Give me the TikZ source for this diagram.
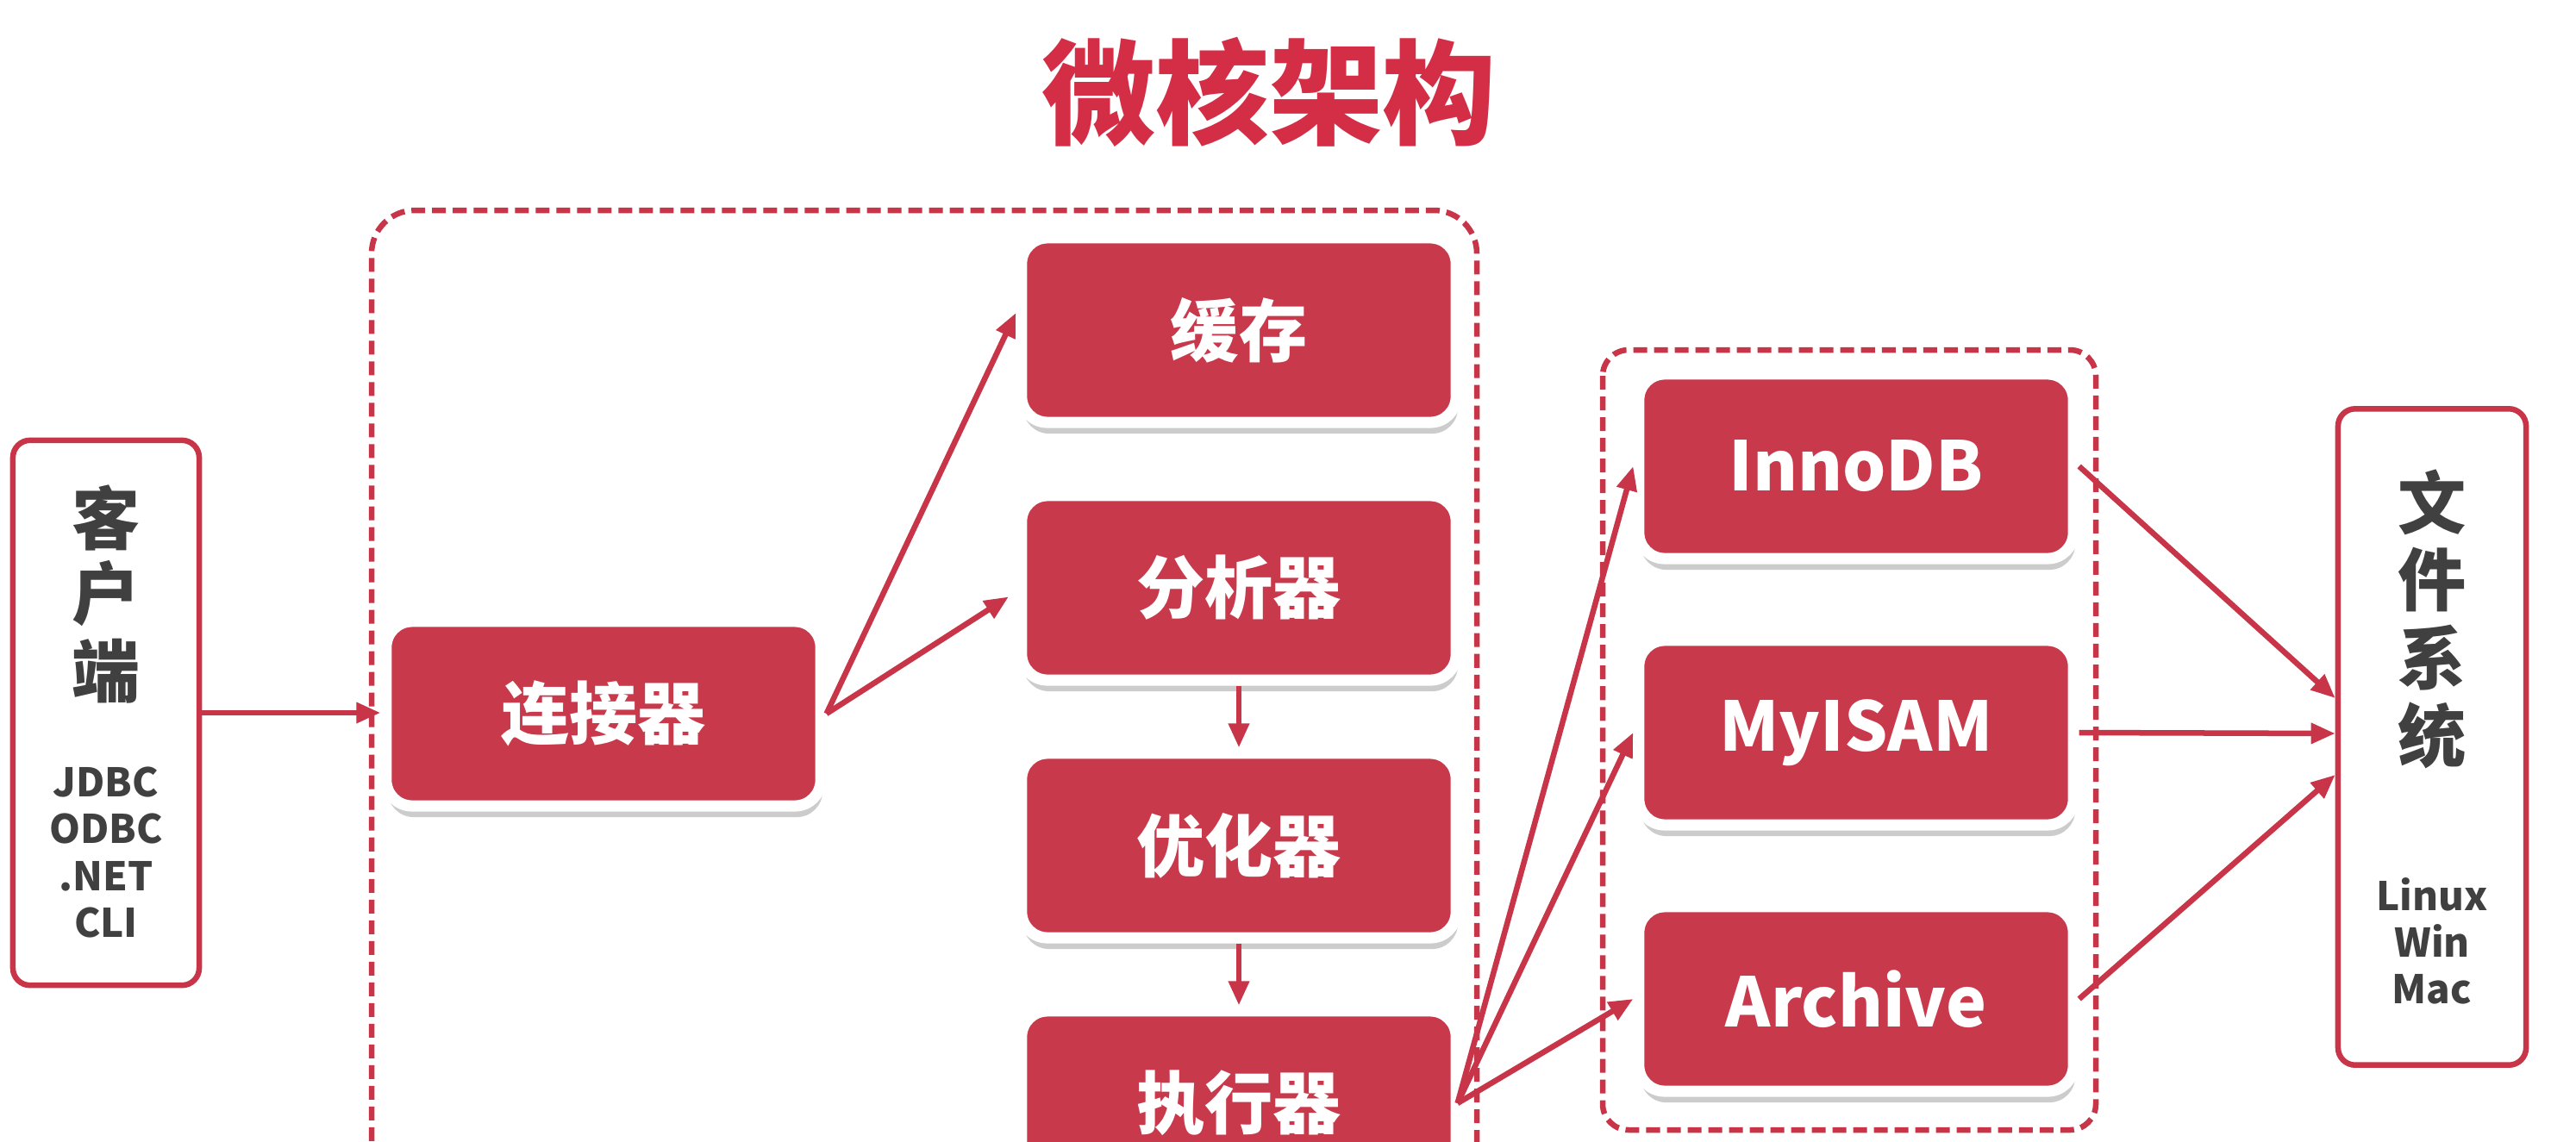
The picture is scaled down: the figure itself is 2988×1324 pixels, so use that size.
\documentclass[tikz,border=0pt]{standalone}
\usepackage{fontspec}
\setmainfont{Noto Sans CJK SC}
\usetikzlibrary{arrows.meta,shadows,calc}
\definecolor{boxred}{RGB}{200,57,75}
\definecolor{linered}{RGB}{200,52,72}
\definecolor{titlered}{RGB}{212,45,70}
\definecolor{txtgray}{RGB}{64,64,64}
\tikzset{
 redbox/.style={rectangle, rounded corners=0.3cm, fill=boxred, draw=white, line width=0.13cm,
   minimum width=5.04cm, minimum height=2.14cm, text=white, inner sep=0,
   font=\bfseries\fontsize{22.5}{26}\selectfont,
   drop shadow={shadow xshift=0.02cm, shadow yshift=-0.13cm, fill=black, opacity=0.2}},
 dashbox/.style={draw=linered, line width=0.065cm, dash pattern=on 0.16cm off 0.08cm, rounded corners=0.5cm},
 sidebox/.style={rectangle, draw=linered, line width=0.065cm, rounded corners=0.2cm, fill=white},
 conn/.style={draw=linered, line width=0.065cm, -{Triangle[length=0.28cm,width=0.23cm]}},
 bigtxt/.style={text=txtgray, font=\bfseries\fontsize{22.5}{26}\selectfont, inner sep=0},
 smalltxt/.style={text=txtgray, font=\bfseries\fontsize{13}{15.4}\selectfont, align=center, inner sep=0},
}
\begin{document}
\begin{tikzpicture}[x=0.01cm,y=-0.01cm]
\clip (0,0) rectangle (2988,1324);
\fill[white] (0,0) rectangle (2988,1324);

% title
\node[font=\bfseries\fontsize{37.5}{40}\selectfont, text=titlered, inner sep=0] (title) at (1472,107) {微核架构};

% dashed groups
\draw[dashbox] (431,1420) -- (431,244) -- (1713,244) -- (1713,1420);
\draw[dashbox, rounded corners=0.3cm] (1859,406) rectangle (2431,1311);

% client
\node[sidebox, minimum width=2.16cm, minimum height=6.32cm] (client) at (123,827) {};
\node[bigtxt] (c1) at (123,601) {客};
\node[bigtxt] (c2) at (123,689) {户};
\node[bigtxt] (c3) at (123,779) {端};
\node[smalltxt] (capi) at (123,989) {JDBC\\ODBC\\.NET\\CLI};

% file system
\node[sidebox, minimum width=2.18cm, minimum height=7.61cm] (fs) at (2821,855) {};
\node[bigtxt] (f1) at (2821,583) {文};
\node[bigtxt] (f2) at (2821,673) {件};
\node[bigtxt] (f3) at (2821,763) {系};
\node[bigtxt] (f4) at (2821,853) {统};
\node[smalltxt] (os) at (2821,1092) {Linux\\Win\\Mac};

% server boxes
\node[redbox] (connector) at (700,828) {连接器};
\node[redbox] (cache) at (1437,383) {缓存};
\node[redbox] (parser) at (1437,682) {分析器};
\node[redbox] (optim) at (1437,981) {优化器};
\node[redbox] (exec) at (1437,1280) {执行器};

% engines
\node[redbox] (inno) at (2153,541) {InnoDB};
\node[redbox] (myisam) at (2153,850) {MyISAM};
\node[redbox] (archive) at (2153,1159) {Archive};

% connectors
\draw[conn] (client.east) -- (client.east -| connector.west);
\draw[conn] (connector.east) -- ($(cache.west)+(0,-20)$);
\draw[conn, shorten >=0.1cm] (connector.east) -- ($(parser.west)+(0,5)$);
\draw[conn] (parser.south) -- (optim.north);
\draw[conn] (optim.south) -- (exec.north);
\coordinate (ex) at ($(exec.east)+(-5,0)$);
\draw[conn] (ex) -- (inno.west);
\draw[conn] (ex) -- (myisam.west);
\draw[conn] (ex) -- (archive.west);
\draw[conn] (inno.east) -- ($(fs.west)+(0,-45)$);
\draw[conn] (myisam.east) -- ($(fs.west)+(0,-4)$);
\draw[conn] (archive.east) -- ($(fs.west)+(0,44)$);
\end{tikzpicture}
\end{document}
